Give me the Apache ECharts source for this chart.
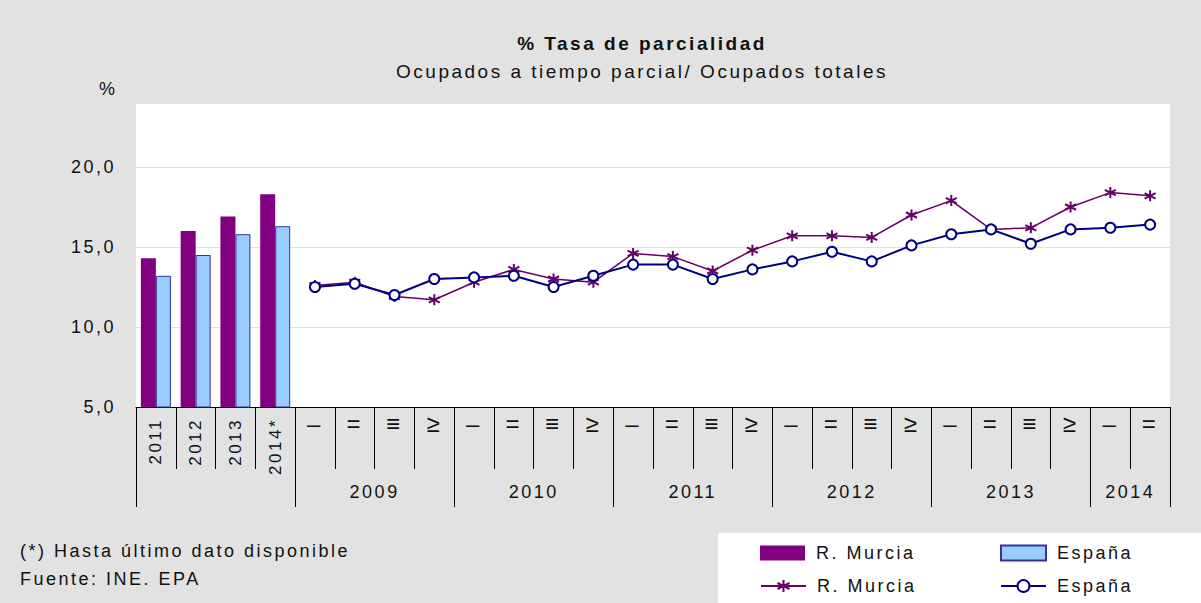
<!DOCTYPE html>
<html>
<head>
<meta charset="utf-8">
<script src="https://cdn.jsdelivr.net/npm/echarts@6/dist/echarts.min.js"></script>
<style>
  html, body { margin: 0; padding: 0; background: #e2e2e2; }
  #main { width: 1201px; height: 603px; }
  /* el original tiene el texto muy espaciado */
  #main svg text { letter-spacing: 2.5px; }
</style>
</head>
<body>
<div id="main"></div>
<script>
// categorias: 4 medias anuales + 22 trimestres
var barYears = ['2011', '2012', '2013', '2014*']
var quarterLabels = ['–', '=', '≡', '≥', '–', '=', '≡', '≥', '–', '=', '≡', '≥',
  '–', '=', '≡', '≥', '–', '=', '≡', '≥', '–', '=']
var groupLabels = ['2009', '2010', '2011', '2012', '2013', '2014']
var groupCenters = [6, 10, 14, 18, 22, 25]
var groupBounds = [0, 4, 8, 12, 16, 20, 24, 26]
var yTicks = [5, 10, 15, 20]

// medias anuales
var murciaAnual = [14.3, 16.0, 16.9, 18.3]
var espanaAnual = [13.2, 14.5, 15.8, 16.3]
// trimestres 2009 I - 2014 II
var murciaTrim = [12.6, 12.8, 11.9, 11.7, 12.8, 13.6, 13.0, 12.8, 14.6, 14.4, 13.5, 14.8,
  15.7, 15.7, 15.6, 17.0, 17.9, 16.1, 16.2, 17.5, 18.4, 18.2]
var espanaTrim = [12.5, 12.7, 12.0, 13.0, 13.1, 13.2, 12.5, 13.2, 13.9, 13.9, 13.0, 13.6,
  14.1, 14.7, 14.1, 15.1, 15.8, 16.1, 15.2, 16.1, 16.2, 16.4]

var categories = barYears.map(function (y) { return 'A' + y })
  .concat(quarterLabels.map(function (q, i) { return 'Q' + i }))
var emptyQ = quarterLabels.map(function () { return '-' })
var emptyA = barYears.map(function () { return '-' })

var FONT = 'Liberation Sans, Arial, sans-serif'
var TXT = '#111'
var legendNames = {
  murciaBar: 'R. Murcia', espanaBar: 'España',
  murciaLine: 'R. Murcia', espanaLine: 'España'
}
var starPath = 'path://M5,0L5,10M0.7,2.5L9.3,7.5M0.7,7.5L9.3,2.5'

function legendAt(name, left, top, icon) {
  var l = {
    data: [name],
    left: left,
    top: top,
    padding: 0,
    itemWidth: 45,
    itemHeight: 15,
    formatter: function (n) { return legendNames[n] },
    textStyle: { fontFamily: FONT, fontSize: 18, color: TXT, padding: [0, 0, 0, 6] }
  }
  if (icon) l.icon = icon
  return l
}

var myChart = echarts.init(document.getElementById('main'), null, { renderer: 'svg' })

var option = {
  backgroundColor: '#e2e2e2',
  animation: false,
  title: [
    {
      text: '% Tasa de parcialidad',
      left: 637, top: 29, textAlign: 'center',
      textStyle: { fontFamily: FONT, fontSize: 19, fontWeight: 'bold', color: TXT }
    },
    {
      text: 'Ocupados a tiempo parcial/ Ocupados totales',
      left: 637, top: 57, textAlign: 'center',
      textStyle: { fontFamily: FONT, fontSize: 19, fontWeight: 'normal', color: TXT }
    }
  ],
  legend: [
    legendAt('murciaBar', 760, 544, 'rect'),
    legendAt('espanaBar', 1000, 544, 'rect'),
    legendAt('murciaLine', 760, 577),
    legendAt('espanaLine', 1000, 577)
  ],
  grid: {
    left: 136, right: 31, top: 103, bottom: 196,
    show: true, backgroundColor: '#fff', borderWidth: 0
  },
  xAxis: [
    {
      // trimestres + separadores cortos
      type: 'category',
      position: 'bottom',
      data: categories,
      axisLine: { lineStyle: { color: '#000', width: 1 } },
      axisTick: { show: true, interval: 0, length: 62, lineStyle: { color: '#000' } },
      axisLabel: {
        interval: 0, margin: 4,
        fontFamily: FONT, fontSize: 24, color: TXT,
        formatter: function (v, i) { return i < barYears.length ? '' : quarterLabels[i - barYears.length] }
      },
      splitLine: { show: false }
    },
    {
      // años de las barras, girados
      type: 'category',
      position: 'bottom',
      data: categories,
      axisLine: { show: false },
      axisTick: { show: false },
      axisLabel: {
        interval: 0, rotate: 90, margin: 11,
        fontFamily: FONT, fontSize: 17, color: TXT,
        formatter: function (v, i) { return i < barYears.length ? barYears[i] : '' }
      },
      splitLine: { show: false }
    },
    {
      // fila de años de los trimestres
      type: 'value',
      position: 'bottom',
      min: 0, max: 26,
      axisLine: { show: false },
      axisTick: { show: true, length: 100, customValues: groupBounds, lineStyle: { color: '#000' } },
      axisLabel: {
        customValues: groupCenters, margin: 76,
        fontFamily: FONT, fontSize: 18, color: TXT,
        formatter: function (v) { return groupLabels[groupCenters.indexOf(v)] || '' }
      },
      splitLine: { show: false }
    }
  ],
  yAxis: {
    type: 'value',
    min: 5, max: 24, interval: 5,
    axisLine: { show: false },
    axisTick: { show: false },
    splitLine: { lineStyle: { color: '#e0e0e0', width: 1 } },
    axisLabel: {
      margin: 20, fontFamily: FONT, fontSize: 18, color: TXT,
      formatter: function (v) { return yTicks.indexOf(v) >= 0 ? v.toFixed(1).replace('.', ',') : '' }
    }
  },
  graphic: [
    { type: 'text', left: 99, top: 80, style: { text: '%', font: '18px ' + FONT, fill: TXT } },
    { type: 'text', left: 20, top: 542, style: { text: '(*) Hasta último dato disponible', font: '18px ' + FONT, fill: TXT } },
    { type: 'text', left: 20, top: 570, style: { text: 'Fuente: INE. EPA', font: '18px ' + FONT, fill: TXT } },
    { type: 'rect', left: 718, top: 533, z: -1, shape: { width: 483, height: 70 }, style: { fill: '#fff' } }
  ],
  series: [
    {
      name: 'murciaBar', type: 'bar', xAxisIndex: 0,
      barWidth: 15, barGap: '0%',
      itemStyle: { color: '#800080' },
      data: murciaAnual.concat(emptyQ)
    },
    {
      name: 'espanaBar', type: 'bar', xAxisIndex: 0,
      barWidth: 15, barGap: '0%',
      itemStyle: { color: '#99ccff', borderColor: '#333399', borderWidth: 1 },
      data: espanaAnual.concat(emptyQ)
    },
    {
      name: 'murciaLine', type: 'line', xAxisIndex: 0,
      symbol: starPath, symbolSize: 11,
      lineStyle: { color: '#660066', width: 1.5 },
      itemStyle: { color: '#660066', borderColor: '#660066', borderWidth: 2 },
      data: emptyA.concat(murciaTrim)
    },
    {
      name: 'espanaLine', type: 'line', xAxisIndex: 0,
      symbol: 'circle', symbolSize: 10, showAllSymbol: true,
      lineStyle: { color: '#000080', width: 2 },
      itemStyle: { color: '#fff', borderColor: '#000080', borderWidth: 2 },
      data: emptyA.concat(espanaTrim)
    }
  ]
}

myChart.setOption(option)
</script>
</body>
</html>
